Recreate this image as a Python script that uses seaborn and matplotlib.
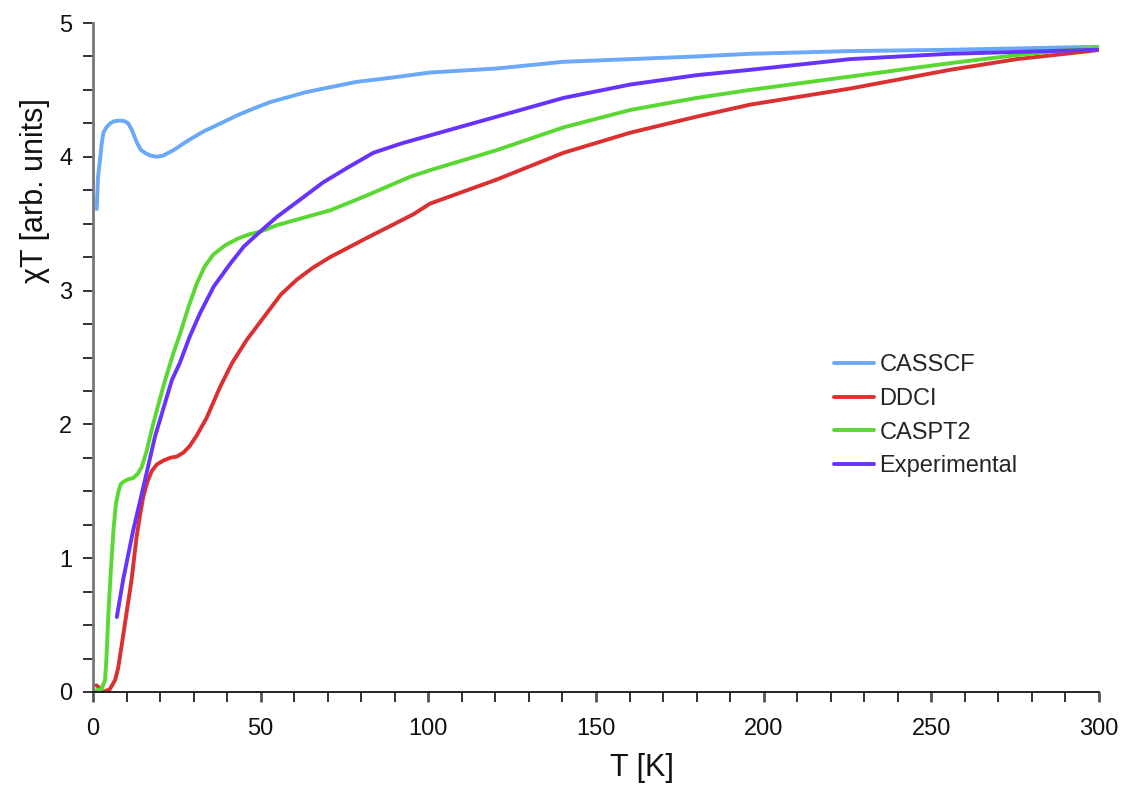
import numpy as np
import pandas as pd
import matplotlib
matplotlib.use("Agg")
import matplotlib.pyplot as plt
from matplotlib.ticker import MultipleLocator
import seaborn as sns

# ---- data ----
casscf_T = [1.1, 1.5, 2.1, 2.6, 3.1, 4.0, 5.1, 6.2, 7.5, 8.5, 9.5, 10.5, 11.6, 13.0, 14.3, 15.5,
            17.0, 19.0, 21.0, 24.0, 28.9, 33.0, 38.9, 43.0, 48.8, 53.0, 58.8, 63.0, 68.7,
            78.6, 88.6, 100.5, 120.4, 140.3, 160.2, 180.0, 196.0, 225.8, 255.6, 295.0, 300.0]
casscf_v = [3.61, 3.85, 3.98, 4.10, 4.18, 4.22, 4.25, 4.265, 4.27, 4.27, 4.265, 4.25, 4.20, 4.11,
            4.05, 4.03, 4.01, 4.00, 4.01, 4.05, 4.13, 4.19, 4.26, 4.31, 4.37, 4.41, 4.45, 4.48,
            4.51, 4.56, 4.59, 4.63, 4.66, 4.71, 4.73, 4.75, 4.77, 4.79, 4.80, 4.82, 4.82]

ddci_T = [1.0, 2.0, 3.0, 5.0, 6.6, 7.5, 8.5, 10.0, 11.5, 13.0, 14.0, 15.0, 16.2, 17.5, 19.0,
          21.0, 23.0, 25.0, 27.0, 28.9, 31.0, 33.9, 37.9, 41.5, 45.8, 51.8, 56.0, 60.7, 65.5,
          70.7, 80.6, 95.5, 100.5, 120.4, 140.3, 160.2, 180.0, 196.0, 225.8, 255.6,
          275.5, 297.3, 300.0]
ddci_v = [0.05, 0.03, 0.0, 0.02, 0.09, 0.18, 0.34, 0.59, 0.84, 1.16, 1.32, 1.46, 1.57, 1.65, 1.70,
          1.73, 1.75, 1.76, 1.79, 1.84, 1.92, 2.05, 2.28, 2.46, 2.63, 2.83, 2.97, 3.08, 3.17,
          3.25, 3.38, 3.57, 3.65, 3.83, 4.03, 4.18, 4.30, 4.39, 4.51, 4.65,
          4.73, 4.79, 4.80]

caspt2_T = [1.1, 2.5, 3.6, 4.0, 4.6, 5.3, 6.1, 6.8, 7.5, 8.2, 9.0, 10.5, 12.0, 13.3, 14.5, 16.0,
            17.5, 19.5, 21.5, 23.8, 26.0, 28.5, 30.9, 33.3, 35.9, 39.5, 43.3, 46.5, 49.8,
            55.0, 60.7, 70.7, 80.6, 94.5, 100.5, 120.4, 140.3, 160.2, 180.0, 196.0, 225.8,
            255.6, 275.5, 299.3]
caspt2_v = [0.015, 0.02, 0.09, 0.25, 0.59, 0.90, 1.21, 1.40, 1.49, 1.55, 1.57, 1.59, 1.60, 1.63,
            1.68, 1.80, 1.96, 2.15, 2.33, 2.52, 2.68, 2.88, 3.05, 3.18, 3.27, 3.34, 3.39, 3.42,
            3.44, 3.49, 3.53, 3.60, 3.70, 3.85, 3.90, 4.05, 4.22, 4.35, 4.44, 4.50, 4.60,
            4.70, 4.76, 4.82]

exp_T = [7.1, 9.0, 12.0, 15.0, 18.5, 23.5, 25.9, 28.9, 31.9, 36.0, 40.9, 45.0, 49.8, 54.8,
         60.7, 68.7, 76.0, 83.6, 92.0, 100.5, 120.4, 140.3, 160.2, 180.0, 196.0, 225.8,
         255.6, 299.3]
exp_v = [0.56, 0.84, 1.21, 1.53, 1.91, 2.33, 2.46, 2.66, 2.83, 3.03, 3.20, 3.33, 3.44, 3.55,
         3.66, 3.81, 3.92, 4.03, 4.10, 4.16, 4.30, 4.44, 4.54, 4.61, 4.65, 4.73,
         4.77, 4.80]

series_names = ["CASSCF", "DDCI", "CASPT2", "Experimental"]
colors = ["#6aa8f8", "#dc2f2f", "#5ad832", "#6633ff"]

frames = []
for name, T, v in zip(series_names,
                      [casscf_T, ddci_T, caspt2_T, exp_T],
                      [casscf_v, ddci_v, caspt2_v, exp_v]):
    frames.append(pd.DataFrame({"T": T, "chiT": v, "method": name}))
df = pd.concat(frames, ignore_index=True)

sns.set_theme(style="ticks")
plt.rcParams["font.family"] = ["Liberation Sans", "DejaVu Sans"]

fig = plt.figure(figsize=(11.24, 7.85), dpi=100)
ax = fig.add_axes([93 / 1124, 1 - 692 / 785, (1099 - 93) / 1124, (692 - 23) / 785])

sns.lineplot(data=df, x="T", y="chiT", hue="method", hue_order=series_names,
             palette=dict(zip(series_names, colors)), sort=False, estimator=None,
             linewidth=2.8, ax=ax)

ax.set_xlim(0, 300)
ax.set_ylim(0, 5)
ax.xaxis.set_major_locator(MultipleLocator(50))
ax.xaxis.set_minor_locator(MultipleLocator(10))
ax.yaxis.set_major_locator(MultipleLocator(1))
ax.yaxis.set_minor_locator(MultipleLocator(0.25))
ax.tick_params(axis="both", which="both", direction="out", length=7, width=1.3,
               color="#222222", labelsize=17, labelcolor="#111111")
ax.tick_params(axis="x", which="major", width=2.0, color="#555555")
ax.tick_params(axis="x", pad=12)
ax.tick_params(axis="y", pad=8)

for s in ["top", "right"]:
    ax.spines[s].set_visible(False)
ax.spines["left"].set_color("#777777")
ax.spines["left"].set_linewidth(2.0)
ax.spines["bottom"].set_color("#111111")
ax.spines["bottom"].set_linewidth(1.3)

ax.set_xlabel("T [K]", fontsize=22, color="#111111")
ax.set_ylabel("χT [arb. units]", fontsize=22, color="#111111")
ax.xaxis.set_label_coords(0.546, -0.114)
ax.yaxis.set_label_coords(-0.058, 0.75)
ax.xaxis.label.set_verticalalignment("center")
ax.yaxis.label.set_verticalalignment("center")

leg = ax.legend(loc="upper left", bbox_to_anchor=(0.715, 0.537), frameon=False,
                fontsize=17, handlelength=1.7, handletextpad=0.25, labelspacing=0.5)
for line in leg.get_lines():
    line.set_linewidth(2.8)

fig.savefig("out.png", dpi=100)
